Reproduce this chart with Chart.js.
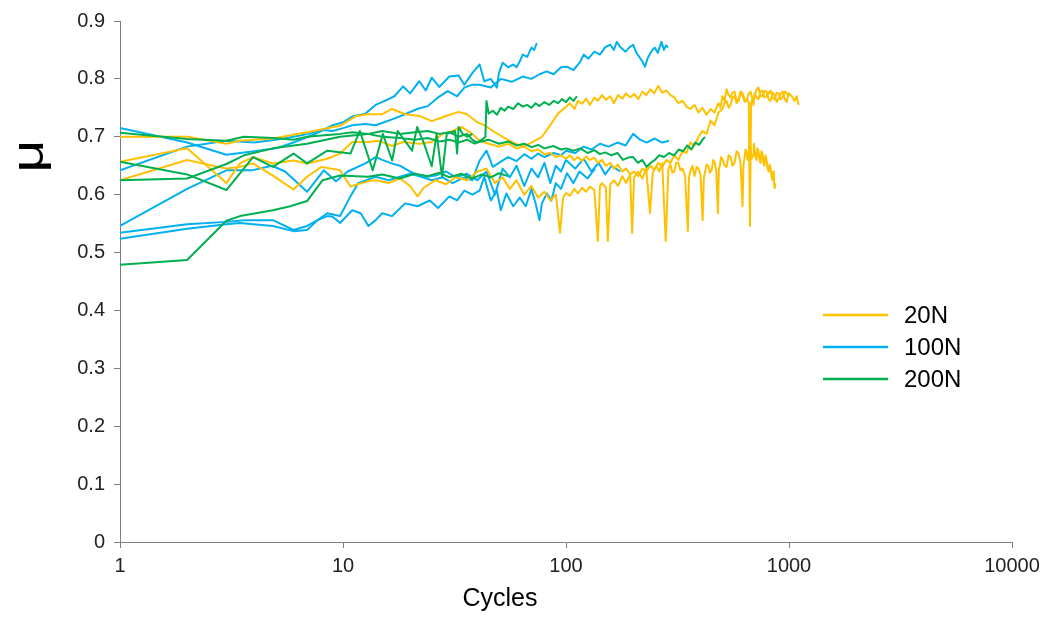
<!DOCTYPE html>
<html lang="en">
<head>
    <meta charset="UTF-8">
    <title>Friction coefficient vs cycles</title>
    <script src="https://cdn.jsdelivr.net/npm/chart.js"></script>
    <style>
        html, body { margin: 0; padding: 0; background: #fff; }
        #wrap { width: 1047px; height: 617px; }
    </style>
</head>
<body>
    <div id="wrap"><canvas id="muChart" width="1047" height="617"></canvas></div>

    <script>
        // loads / legend
        const loads = ['20N', '100N', '200N'];
        const loadColors = ['#FFC000', '#00B0F0', '#00B050'];

        // axis ticks
        const xTicks = [1, 10, 100, 1000, 10000];
        const xTickLabels = ['1', '10', '100', '1000', '10000'];
        const yTicks = [0, 0.1, 0.2, 0.3, 0.4, 0.5, 0.6, 0.7, 0.8, 0.9];
        const yTickLabels = ['0', '0.1', '0.2', '0.3', '0.4', '0.5', '0.6', '0.7', '0.8', '0.9'];

        // 20N runs  [cycle, mu]
        const o1 = [[1,0.70],[2,0.70],[3,0.688],[3.45,0.693],[4.85,0.697],[6.9,0.708],[9.7,0.719],[11.5,0.736],[12.9,0.739],[15,0.739],[16.6,0.748],[19,0.739],[22,0.736],[25,0.727],[29,0.736],[33,0.743],[36,0.739],[40,0.725],[43,0.72],[47,0.71],[52,0.70],[58,0.69],[64,0.683],[70,0.69],[78,0.70],[85,0.72],[92,0.74],[100,0.752],[104,0.758],[109,0.748],[113,0.762],[118,0.757],[123,0.766],[128,0.755],[134,0.768],[139,0.762],[145,0.772],[151,0.764],[158,0.77],[164,0.758],[171,0.772],[179,0.766],[186,0.775],[194,0.768],[202,0.774],[211,0.765],[220,0.778],[229,0.772],[239,0.782],[249,0.775],[259,0.788],[270,0.776],[282,0.78],[294,0.772],[306,0.768],[319,0.758],[333,0.762],[347,0.752],[361,0.748],[377,0.755],[393,0.742],[409,0.75],[427,0.738],[445,0.748],[463,0.742],[483,0.758],[493,0.75],[503,0.77],[514,0.762],[525,0.782],[536,0.772],[547,0.768],[558,0.776],[570,0.778],[582,0.762],[594,0.765],[606,0.778],[619,0.775],[632,0.764],[645,0.762],[658,0.774],[672,0.778],[686,0.765],[701,0.768],[715,0.782],[730,0.785],[745,0.77],[761,0.77],[777,0.779],[793,0.778],[810,0.765],[827,0.762],[844,0.776],[862,0.772],[880,0.76],[898,0.765],[917,0.774],[936,0.778],[956,0.766],[976,0.76],[996,0.775],[1017,0.772],[1038,0.768],[1060,0.762],[1082,0.77],[1105,0.755]];
        const o2 = [[1,0.657],[2,0.68],[3,0.62],[3.45,0.654],[3.95,0.665],[4.85,0.654],[6,0.659],[6.9,0.654],[8.5,0.662],[9.7,0.671],[11,0.691],[12.9,0.691],[14.5,0.693],[16.6,0.684],[18.6,0.691],[22,0.688],[25,0.691],[28,0.705],[31,0.71],[34,0.717],[38,0.705],[41,0.693],[45,0.688],[50,0.683],[55,0.688],[60,0.68],[65,0.683],[70,0.675],[75,0.678],[80,0.67],[85,0.672],[90,0.665],[95,0.668],[100,0.662],[104,0.668],[109,0.66],[113,0.665],[118,0.658],[123,0.666],[128,0.66],[134,0.664],[139,0.655],[145,0.66],[151,0.65],[158,0.655],[164,0.645],[171,0.652],[179,0.64],[186,0.645],[194,0.635],[202,0.64],[211,0.632],[220,0.645],[229,0.64],[239,0.65],[249,0.643],[259,0.655],[270,0.648],[282,0.66],[294,0.655],[306,0.668],[319,0.66],[333,0.675],[347,0.672],[361,0.69],[377,0.685],[393,0.70],[409,0.71],[427,0.705],[445,0.728],[463,0.72],[483,0.742],[503,0.748],[514,0.758],[525,0.762],[536,0.75],[547,0.755],[558,0.768],[570,0.77],[582,0.758],[594,0.762],[606,0.775],[619,0.772],[632,0.76],[645,0.765],[660,0.76],[668,0.546],[676,0.758],[685,0.765],[693,0.755],[701,0.775],[715,0.768],[730,0.765],[745,0.778],[761,0.78],[777,0.768],[793,0.77],[810,0.775],[827,0.78],[844,0.768],[862,0.765],[880,0.776],[898,0.775],[917,0.765],[936,0.768],[956,0.778],[976,0.775],[1000,0.77]];
        const o3 = [[1,0.625],[2,0.66],[3,0.645],[3.45,0.648],[3.95,0.654],[4.85,0.633],[6,0.609],[6.9,0.631],[8,0.648],[9.7,0.642],[10.8,0.614],[12.9,0.623],[14,0.625],[16,0.62],[18,0.628],[20,0.615],[21.6,0.597],[23,0.612],[26,0.625],[29,0.618],[32,0.63],[36,0.625],[40,0.64],[44,0.645],[48,0.62],[52,0.63],[56,0.61],[60,0.625],[65,0.60],[70,0.615],[75,0.595],[80,0.605],[85,0.59],[90,0.60],[94,0.534],[97,0.595],[100,0.603],[104,0.598],[109,0.61],[113,0.602],[118,0.612],[123,0.605],[128,0.614],[134,0.608],[139,0.52],[142,0.615],[145,0.62],[151,0.612],[154,0.52],[158,0.618],[164,0.625],[171,0.615],[179,0.632],[186,0.62],[194,0.635],[198,0.534],[202,0.63],[211,0.64],[220,0.628],[229,0.645],[238,0.568],[245,0.638],[254,0.65],[262,0.64],[270,0.655],[280,0.52],[288,0.645],[294,0.652],[300,0.638],[306,0.64],[312,0.655],[319,0.655],[326,0.642],[333,0.645],[342,0.632],[352,0.537],[356,0.63],[361,0.64],[369,0.65],[377,0.632],[385,0.648],[393,0.645],[401,0.635],[410,0.556],[415,0.628],[420,0.638],[427,0.652],[435,0.65],[442,0.638],[450,0.642],[457,0.66],[465,0.655],[472,0.64],[480,0.568],[485,0.645],[490,0.65],[496,0.665],[503,0.662],[514,0.65],[525,0.648],[536,0.668],[547,0.665],[558,0.65],[570,0.655],[582,0.675],[594,0.672],[606,0.655],[619,0.58],[625,0.652],[630,0.66],[638,0.678],[645,0.675],[652,0.66],[660,0.665],[666,0.685],[672,0.682],[680,0.662],[690,0.668],[695,0.688],[701,0.678],[708,0.665],[715,0.66],[722,0.68],[730,0.675],[738,0.66],[745,0.655],[753,0.675],[761,0.67],[768,0.655],[775,0.65],[784,0.668],[793,0.66],[801,0.645],[810,0.64],[818,0.652],[827,0.645],[836,0.63],[845,0.625],[850,0.64],[855,0.635],[860,0.612],[865,0.615],[870,0.62]];

        // 100N runs
        const b1 = [[1,0.715],[2,0.69],[3,0.669],[4,0.675],[5,0.68],[6,0.69],[7,0.70],[8,0.71],[9,0.72],[10,0.725],[11,0.735],[12.6,0.74],[14,0.755],[16,0.765],[17,0.77],[18.6,0.787],[20,0.775],[22,0.796],[23.5,0.78],[25,0.802],[27,0.786],[30,0.804],[33,0.806],[35,0.79],[38,0.81],[41,0.825],[43,0.796],[46,0.80],[49,0.785],[50,0.81],[52,0.828],[55,0.82],[58,0.825],[60,0.82],[62,0.83],[64,0.842],[67,0.838],[70,0.854],[72,0.85],[74,0.862]];
        const b2 = [[1,0.642],[2,0.683],[3,0.693],[4,0.69],[5,0.695],[6,0.70],[7,0.705],[8,0.712],[9,0.71],[10,0.715],[11,0.72],[12.6,0.722],[14,0.72],[16.6,0.73],[19,0.739],[21.5,0.748],[24,0.753],[26.7,0.768],[29.5,0.779],[32.5,0.77],[35,0.785],[38,0.79],[41,0.79],[46,0.785],[51,0.80],[57,0.795],[64,0.804],[70,0.80],[76,0.808],[82,0.813],[88,0.808],[95,0.82],[101,0.821],[108,0.815],[116,0.83],[120,0.842],[126,0.835],[134,0.847],[142,0.842],[150,0.855],[158,0.859],[164,0.85],[169,0.864],[175,0.855],[185,0.847],[193,0.855],[200,0.859],[207,0.845],[214,0.837],[220,0.83],[226,0.821],[232,0.835],[237,0.842],[244,0.85],[250,0.854],[258,0.845],[268,0.864],[275,0.85],[281,0.858],[287,0.854]];
        const b3 = [[1,0.546],[2,0.61],[3,0.642],[3.9,0.642],[4.8,0.65],[5.5,0.64],[6.9,0.605],[8.2,0.642],[9.3,0.623],[10.5,0.64],[12.6,0.654],[14,0.665],[15,0.66],[16.5,0.654],[18,0.65],[20,0.64],[22,0.632],[25,0.625],[28,0.63],[31,0.62],[35,0.63],[38,0.625],[41,0.659],[44,0.676],[47,0.648],[50,0.655],[55,0.665],[60,0.658],[65,0.67],[70,0.662],[75,0.671],[80,0.665],[88,0.672],[95,0.668],[100,0.676],[110,0.672],[120,0.683],[130,0.678],[142,0.688],[155,0.683],[170,0.69],[185,0.685],[200,0.705],[215,0.695],[230,0.69],[250,0.697],[270,0.69],[290,0.693]];
        const b4 = [[1,0.534],[2,0.549],[3,0.553],[3.6,0.556],[4.85,0.556],[6,0.539],[6.9,0.546],[7.7,0.556],[8.5,0.563],[9,0.562],[9.7,0.551],[11,0.573],[12,0.568],[13,0.546],[14,0.556],[15,0.568],[16.6,0.563],[19,0.585],[21.6,0.58],[24.5,0.59],[26.7,0.577],[30,0.597],[32.5,0.59],[35,0.607],[38,0.60],[41,0.607],[43,0.631],[46,0.59],[49,0.607],[51,0.573],[54,0.602],[58,0.58],[62,0.595],[66,0.58],[70,0.61],[73,0.585],[76,0.556],[78,0.585],[82,0.602],[86,0.59],[90,0.62],[95,0.61],[101,0.637],[108,0.62],[115,0.64],[125,0.628],[135,0.645]];
        const b5 = [[1,0.524],[2,0.541],[3,0.549],[3.45,0.551],[4.85,0.546],[6,0.537],[6.9,0.539],[7.7,0.556],[8.5,0.568],[9.7,0.563],[10.8,0.597],[11.7,0.62],[12.9,0.626],[14,0.631],[16,0.625],[18,0.631],[20,0.636],[23,0.63],[26,0.633],[29,0.64],[32,0.63],[36,0.636],[40,0.625],[44,0.64],[48,0.60],[52,0.645],[56,0.63],[60,0.65],[65,0.615],[70,0.645],[75,0.63],[80,0.655],[85,0.62],[90,0.65],[95,0.64],[100,0.66],[110,0.645],[120,0.662],[130,0.64],[140,0.655],[150,0.635],[160,0.65],[175,0.64]];

        // 200N runs
        const g1 = [[1,0.707],[2,0.696],[3,0.693],[3.6,0.70],[4.85,0.698],[6,0.695],[6.9,0.70],[8,0.702],[9.7,0.705],[11,0.708],[13,0.705],[15,0.71],[18,0.705],[21,0.708],[24,0.71],[27,0.705],[30,0.708],[33,0.70],[36,0.705],[38,0.695],[40,0.69],[45,0.695],[50,0.688],[55,0.692],[60,0.685],[65,0.688],[70,0.682],[75,0.686],[80,0.68],[88,0.684],[95,0.678],[100,0.68],[108,0.676],[116,0.68],[125,0.672],[134,0.677],[142,0.67],[150,0.673],[160,0.668],[170,0.672],[180,0.66],[190,0.664],[200,0.665],[210,0.655],[220,0.66],[230,0.648],[240,0.655],[250,0.66],[262,0.668],[275,0.665],[290,0.672],[305,0.668],[320,0.678],[335,0.675],[350,0.685],[365,0.678],[380,0.69],[395,0.686],[410,0.695],[420,0.70]];
        const g2 = [[1,0.657],[2,0.635],[3,0.608],[3.95,0.665],[4.85,0.648],[6,0.671],[6.9,0.654],[8.5,0.676],[10.8,0.671],[11.9,0.71],[13.6,0.642],[15.1,0.705],[16.6,0.659],[17.6,0.71],[20.4,0.676],[21.5,0.717],[23,0.69],[25,0.649],[26.3,0.705],[27.8,0.631],[29.2,0.705],[31.8,0.71],[32.5,0.671],[33,0.717],[34.4,0.705],[36,0.70],[38,0.705]];
        const g3 = [[1,0.625],[2,0.628],[3,0.653],[3.6,0.668],[4.85,0.68],[6.9,0.688],[9.7,0.70],[12.9,0.705],[15,0.70],[18,0.698],[21,0.695],[24,0.698],[27,0.692],[30,0.695],[33,0.69],[36,0.695],[39,0.688],[42,0.695],[43.5,0.70],[44,0.762],[45,0.74],[47,0.745],[49,0.738],[51,0.75],[53,0.745],[55,0.752],[58,0.748],[61,0.758],[64,0.752],[67,0.755],[70,0.75],[73,0.758],[76,0.753],[80,0.76],[84,0.755],[88,0.762],[92,0.758],[96,0.765],[100,0.76],[104,0.768],[108,0.762],[112,0.77]];
        const g4 = [[1,0.479],[2,0.487],[3,0.555],[3.45,0.563],[4.85,0.573],[5.8,0.58],[6.9,0.589],[8.1,0.625],[9.7,0.633],[12.9,0.631],[15,0.635],[18,0.628],[21,0.636],[24,0.632],[27,0.638],[30,0.63],[34,0.636],[38,0.628],[42,0.635],[46,0.63],[50,0.637],[55,0.632]];

        const runsByLoad = [[o1, o2, o3], [b1, b2, b3, b4, b5], [g1, g2, g3, g4]];

        const FONT = '"Liberation Sans", Arial, sans-serif';
        const axisColor = '#7f7f7f';

        // green drawn on top, blue at the bottom (dataset 0 is painted last)
        const drawOrder = [2, 0, 1];
        const datasets = [];
        drawOrder.forEach(li => {
            runsByLoad[li].forEach((run, ri) => {
                datasets.push({
                    label: loads[li] + ' #' + (ri + 1),
                    data: run.map(p => ({ x: p[0], y: p[1] })),
                    borderColor: loadColors[li],
                    backgroundColor: loadColors[li],
                    borderWidth: 2,
                    pointRadius: 0,
                    tension: 0,
                    fill: false,
                    borderJoinStyle: 'round'
                });
            });
        });

        const decor = {
            id: 'decor',
            afterDraw(chart) {
                const ctx = chart.ctx;
                ctx.save();
                // y title (rotated, Excel style)
                ctx.translate(31, 156);
                ctx.rotate(-Math.PI / 2);
                ctx.scale(1.27, 1);
                ctx.fillStyle = '#000';
                ctx.font = '45px ' + FONT;
                ctx.textAlign = 'center';
                ctx.textBaseline = 'middle';
                ctx.fillText('μ', 0, 0);
                ctx.restore();

                ctx.save();
                ctx.fillStyle = '#000';
                ctx.font = '25px ' + FONT;
                ctx.textAlign = 'center';
                ctx.textBaseline = 'middle';
                ctx.fillText('Cycles', 500, 599);

                // legend
                const rows = [315, 347, 379];
                ctx.font = '24px ' + FONT;
                ctx.textAlign = 'left';
                loads.forEach((name, i) => {
                    ctx.strokeStyle = loadColors[i];
                    ctx.lineWidth = 2.5;
                    ctx.beginPath();
                    ctx.moveTo(823, rows[i]);
                    ctx.lineTo(888, rows[i]);
                    ctx.stroke();
                    ctx.fillStyle = '#000';
                    ctx.fillText(name, 904, rows[i] + 1);
                });
                ctx.restore();
            }
        };

        new Chart(document.getElementById('muChart'), {
            type: 'line',
            data: { datasets },
            plugins: [decor],
            options: {
                responsive: false,
                animation: false,
                devicePixelRatio: 1,
                layout: { padding: { left: 0, top: 16, right: 35, bottom: 0 } },
                plugins: { legend: { display: false }, tooltip: { enabled: false } },
                scales: {
                    x: {
                        type: 'logarithmic',
                        min: 1,
                        max: 10000,
                        afterBuildTicks: s => { s.ticks = xTicks.map(v => ({ value: v })); },
                        afterFit: s => { s.height = 75; },
                        ticks: {
                            callback: (v) => xTickLabels[xTicks.indexOf(v)],
                            color: '#222',
                            font: { family: FONT, size: 20 },
                            padding: 6,
                            maxRotation: 0,
                            autoSkip: false
                        },
                        grid: { drawOnChartArea: false, tickLength: 6, color: axisColor },
                        border: { color: axisColor, width: 1 }
                    },
                    y: {
                        min: 0,
                        max: 0.9,
                        afterBuildTicks: s => { s.ticks = yTicks.map(v => ({ value: v })); },
                        afterFit: s => { s.width = 120; },
                        ticks: {
                            callback: (v, i) => yTickLabels[i],
                            color: '#222',
                            font: { family: FONT, size: 20 },
                            padding: 9
                        },
                        grid: { drawOnChartArea: false, tickLength: 6, color: axisColor },
                        border: { color: axisColor, width: 1 }
                    }
                }
            }
        });
    </script>
</body>
</html>
